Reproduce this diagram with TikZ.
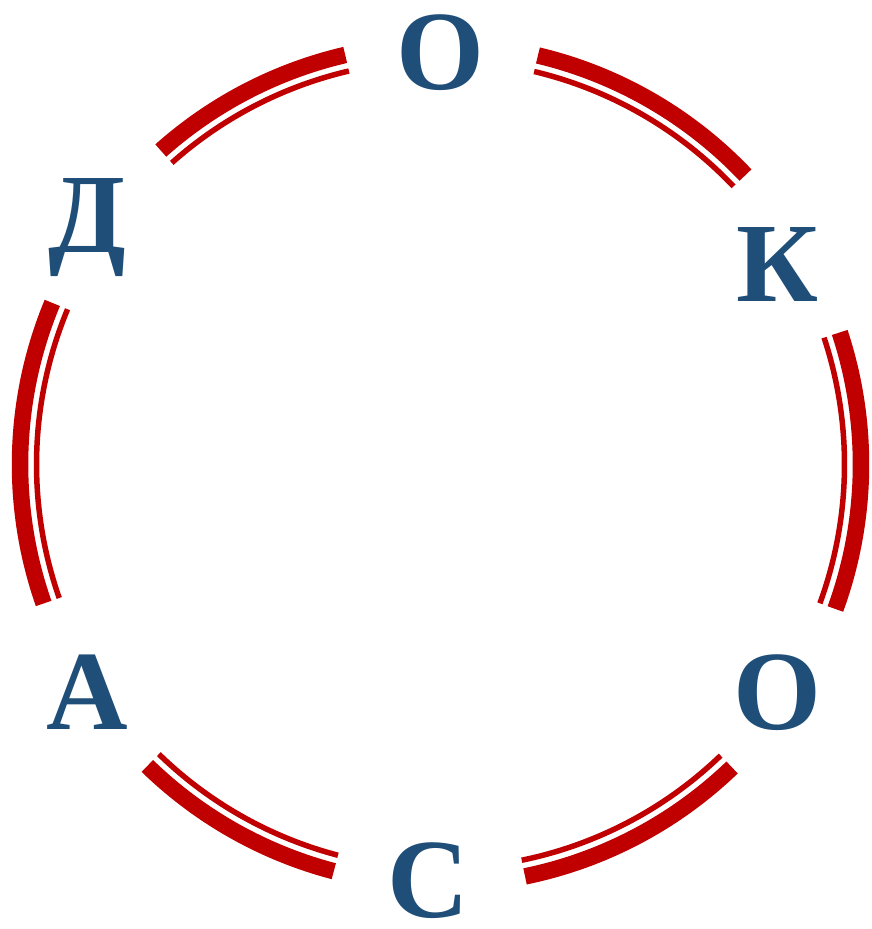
\documentclass[tikz,border=0pt]{standalone}
\usepackage{fontspec}
\setmainfont{Liberation Serif}
\definecolor{arcred}{HTML}{C00000}
\definecolor{letterblue}{HTML}{1F4E79}
\begin{document}
\begin{tikzpicture}[x=1pt,y=1pt,
  letter/.style={inner sep=0pt, anchor=base, text=letterblue,
    font=\bfseries\fontsize{113}{120}\selectfont},
  outerarc/.style={draw=arcred, line width=16.5pt, line cap=butt},
  innerarc/.style={draw=arcred, line width=5.5pt, line cap=butt}]
\useasboundingbox (0,0) rectangle (871,929);
\coordinate (c) at (440.5,464.5);
% letters
\node[letter] (o1) at (440.5,839) {О};
\node[letter] (k)  at (777,627) {К};
\node[letter] (o2) at (777,199) {О};
\node[letter] (s)  at (428,11) {С};
\node[letter] (a)  at (87,199) {А};
\node[letter] (d)  at (87.5,676) {Д};
% double arcs
\foreach \a/\b in {43.5/76.6, 103.1/131.7, 157.4/199.3, 225.8/255.3, 281.6/313.9, -20.1/18.3}{
  \draw[outerarc] ([shift={(\a:420.5)}]c) arc[start angle=\a, end angle=\b, radius=420.5];
  \draw[innerarc] ([shift={(\a:404)}]c) arc[start angle=\a, end angle=\b, radius=404];
}
\end{tikzpicture}
\end{document}
